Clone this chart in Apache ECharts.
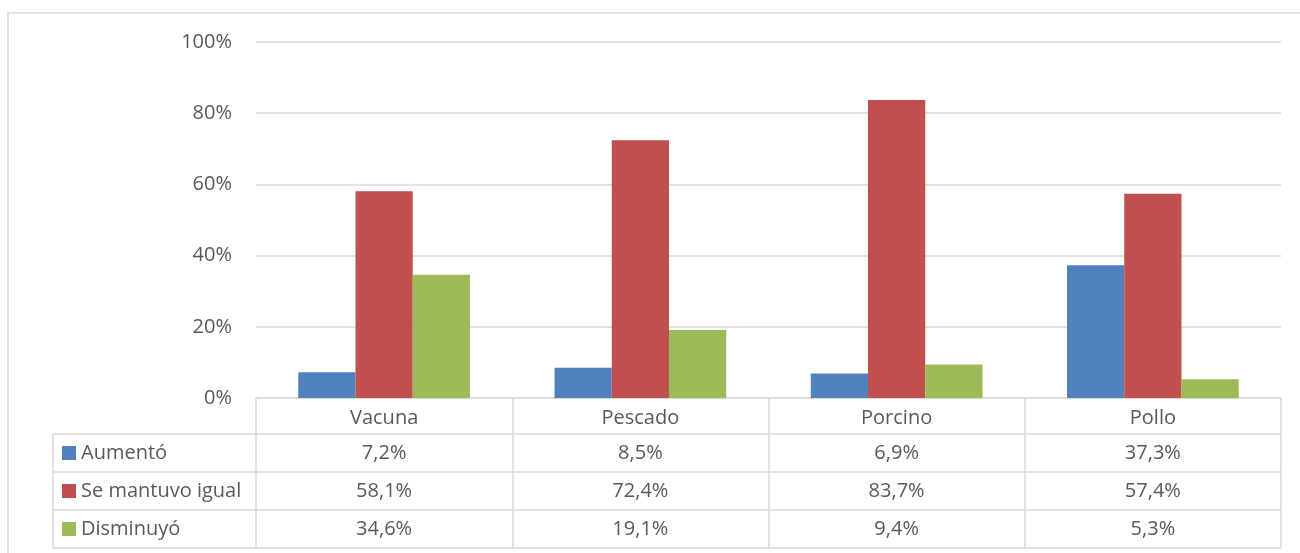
<!DOCTYPE html>
<html>
<head>
<meta charset="utf-8">
<script src="https://cdn.jsdelivr.net/npm/echarts@6/dist/echarts.min.js"></script>
<style>
  html, body { margin: 0; padding: 0; background: #fff; }
  #chart { width: 1300px; height: 553px; }
</style>
</head>
<body>
<div id="chart"></div>
<script>
// categorias y series (valores en %)
const categories = ['Vacuna', 'Pescado', 'Porcino', 'Pollo'];
const seriesNames = ['Aumentó', 'Se mantuvo igual', 'Disminuyó'];
const aumento = [7.2, 8.5, 6.9, 37.3];
const igual = [58.1, 72.4, 83.7, 57.4];
const disminuyo = [34.6, 19.1, 9.4, 5.3];
const colors = ['#4F81BD', '#C0504D', '#9BBB59'];

const FONT = '"Open Sans"';
const FS = 20;
const TXT = '#595959';
const LINE = '#D9D9D9';

const chart = echarts.init(document.getElementById('chart'));
const allData = [aumento, igual, disminuyo];

chart.setOption({
    animation: false,
    textStyle: { fontFamily: 'Open Sans' },
    grid: { left: 256, right: 19, top: 42, bottom: 155 },
    xAxis: {
        type: 'category',
        data: categories,
        axisLine: { lineStyle: { color: LINE, width: 1.5 } },
        axisTick: { show: true, length: 150, lineStyle: { color: LINE, width: 1.5 } },
        axisLabel: { color: TXT, fontSize: FS, margin: 10 }
    },
    yAxis: {
        type: 'value',
        min: 0, max: 100, interval: 20,
        axisLabel: { formatter: '{value}%', color: TXT, fontSize: FS, margin: 24 },
        splitLine: { lineStyle: { color: LINE, width: 1.5 } },
        axisLine: { show: false },
        axisTick: { show: false }
    },
    series: seriesNames.map((name, i) => ({
        name: name,
        type: 'bar',
        data: allData[i],
        barGap: '0%',
        barCategoryGap: '33%',
        itemStyle: { color: colors[i] }
    }))
});

// tabla de datos debajo del grafico
function drawTable() {
    const x0 = chart.convertToPixel({ xAxisIndex: 0 }, 0);
    const x1 = chart.convertToPixel({ xAxisIndex: 0 }, 1);
    const band = x1 - x0;
    const yZero = chart.convertToPixel({ yAxisIndex: 0 }, 0);
    const left = x0 - band / 2;
    const right = left + band * categories.length;
    const tableLeft = 53;
    const headerBottom = yZero + 36;
    const rowH = 38;
    const els = [];

    // marco exterior
    els.push({ type: 'rect', shape: { x: 8, y: 13, width: 1400, height: 700 },
        style: { fill: null, stroke: LINE, lineWidth: 1.5 }, silent: true });

    for (let r = 0; r <= seriesNames.length; r++) {
        const y = headerBottom + r * rowH;
        els.push({ type: 'line', shape: { x1: tableLeft, y1: y, x2: right, y2: y },
            style: { stroke: LINE, lineWidth: 1.5 } });
    }
    els.push({ type: 'line', shape: { x1: tableLeft, y1: headerBottom, x2: tableLeft, y2: headerBottom + rowH * 3 },
        style: { stroke: LINE, lineWidth: 1.5 } });

    seriesNames.forEach((name, r) => {
        const cy = headerBottom + r * rowH + rowH / 2;
        els.push({ type: 'rect', shape: { x: 62, y: cy - 7, width: 14, height: 14 },
            style: { fill: colors[r] } });
        els.push({ type: 'text', x: 81, y: cy,
            style: { text: name, fill: TXT, font: FS + 'px ' + FONT, verticalAlign: 'middle', align: 'left' } });
        allData[r].forEach((v, c) => {
            const cx = chart.convertToPixel({ xAxisIndex: 0 }, c);
            els.push({ type: 'text', x: cx, y: cy,
                style: { text: v.toFixed(1).replace('.', ',') + '%', fill: TXT, font: FS + 'px ' + FONT,
                    align: 'center', verticalAlign: 'middle' } });
        });
    });

    chart.setOption({ graphic: { elements: els } });
}
drawTable();
</script>
</body>
</html>
